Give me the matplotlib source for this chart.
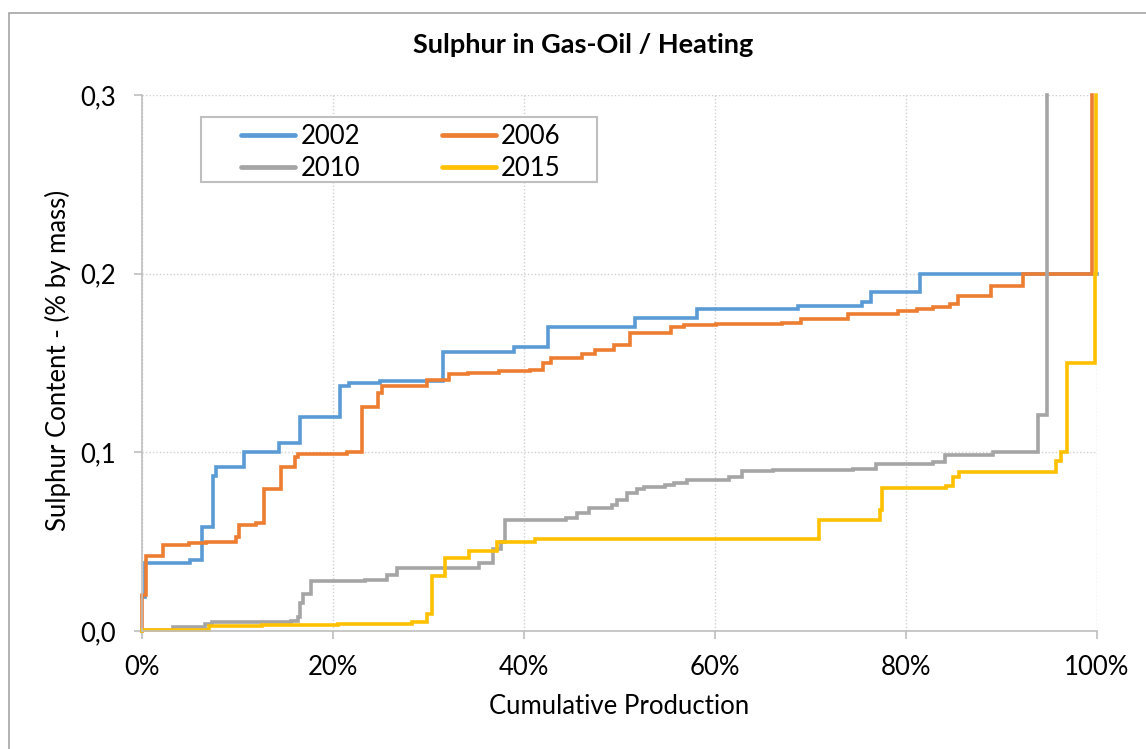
import matplotlib.pyplot as plt
from matplotlib.patches import Rectangle
from matplotlib.ticker import FuncFormatter, MultipleLocator

# cumulative production (%) where each step starts, and sulphur content (% by mass)
x_2002 = [0, 0.35, 5.0, 6.3, 7.45, 7.8, 10.7, 14.4, 16.6, 20.7, 21.7, 24.9, 31.5,
          39.0, 42.5, 51.7, 58.1, 68.7, 75.4, 76.4, 81.5, 100]
y_2002 = [0.019, 0.038, 0.040, 0.058, 0.087, 0.092, 0.100, 0.105, 0.120, 0.137, 0.139,
          0.140, 0.156, 0.159, 0.170, 0.175, 0.180, 0.182, 0.184, 0.190, 0.200, 0.200]

x_2006 = [0, 0, 0.45, 2.2, 4.9, 6.7, 9.9, 10.2, 11.9, 12.8, 14.6, 16.0, 16.3, 21.5,
          23.0, 24.7, 25.1, 29.9, 32.2, 34.2, 37.4, 40.7, 42.0, 42.9, 46.1, 47.5,
          49.4, 51.1, 55.4, 56.8, 60.1, 67.0, 69.0, 74.0, 79.2, 81.2, 82.9, 84.6,
          85.5, 88.9, 92.3, 99.5]
y_2006 = [0, 0.020, 0.042, 0.048, 0.049, 0.050, 0.0526, 0.0596, 0.0604, 0.0796, 0.092,
          0.0976, 0.099, 0.100, 0.1256, 0.133, 0.137, 0.1406, 0.1436, 0.1445, 0.1454,
          0.146, 0.150, 0.153, 0.155, 0.157, 0.160, 0.167, 0.170, 0.171, 0.172,
          0.1726, 0.1746, 0.1776, 0.179, 0.180, 0.1816, 0.183, 0.1876, 0.193, 0.200, 0.3]

x_2010 = [0, 0, 3.3, 6.6, 7.3, 15.6, 16.3, 16.6, 16.9, 17.7, 23.4, 25.7, 26.7, 35.3,
          36.8, 37.6, 38.0, 44.4, 45.6, 46.8, 49.2, 49.8, 50.8, 51.9, 52.6, 54.8,
          55.7, 57.1, 61.5, 62.9, 66.1, 74.5, 76.9, 82.9, 84.1, 89.2, 93.9, 94.8]
y_2010 = [0, 0.0008, 0.002, 0.004, 0.005, 0.0056, 0.0076, 0.0156, 0.0206, 0.028, 0.0286,
          0.0316, 0.035, 0.038, 0.046, 0.050, 0.062, 0.063, 0.066, 0.069, 0.0707,
          0.0735, 0.077, 0.0794, 0.0806, 0.0815, 0.0828, 0.0847, 0.086, 0.0897, 0.090,
          0.0906, 0.0932, 0.0946, 0.0986, 0.100, 0.121, 0.3]

x_2015 = [0, 0, 7.0, 12.6, 15.9, 20.5, 28.3, 29.9, 30.4, 31.7, 34.3, 37.2, 41.2, 70.9,
          77.3, 77.5, 84.2, 85.0, 85.6, 95.8, 96.3, 96.9, 99.8, 99.9]
y_2015 = [0, 0.0008, 0.0026, 0.0032, 0.0036, 0.004, 0.005, 0.0096, 0.0306, 0.0406,
          0.0445, 0.050, 0.0514, 0.062, 0.0676, 0.080, 0.0812, 0.0862, 0.0892, 0.095,
          0.100, 0.150, 0.200, 0.3]

series = [("2002", x_2002, y_2002, "#5B9BD5"),
          ("2006", x_2006, y_2006, "#ED7D31"),
          ("2010", x_2010, y_2010, "#A5A5A5"),
          ("2015", x_2015, y_2015, "#FFC000")]

plt.rcParams['font.family'] = ['Lato', 'DejaVu Sans']
FS = 18.5

fig = plt.figure(figsize=(11.46, 7.49), dpi=100)
W, H = 1146, 749
ax = fig.add_axes([142 / W, 1 - 631 / H, (1096.5 - 142) / W, (631 - 95) / H])

lines = {}
for name, xs, ys, col in series:
    lines[name], = ax.step(xs, ys, where='post', color=col, lw=2.6, label=name,
                           clip_on=False, solid_joinstyle='miter')

ax.set_xlim(0, 100)
ax.set_ylim(0, 0.3)
ax.xaxis.set_major_locator(MultipleLocator(20))
ax.yaxis.set_major_locator(MultipleLocator(0.1))
ax.xaxis.set_major_formatter(FuncFormatter(lambda v, p: "%d%%" % round(v)))
ax.yaxis.set_major_formatter(FuncFormatter(lambda v, p: ("%.1f" % v).replace('.', ',')))
ax.grid(True, color='#D0D0D0', ls=(0, (1, 1.5)), lw=1)
ax.set_axisbelow(True)
for s in ['top', 'right']:
    ax.spines[s].set_visible(False)
for s in ['left', 'bottom']:
    ax.spines[s].set_color('#BFBFBF')
    ax.spines[s].set_linewidth(1.2)
ax.tick_params(axis='both', colors='#BFBFBF', labelcolor='black', labelsize=FS,
               length=6, width=1.2)
ax.tick_params(axis='y', pad=13)
ax.tick_params(axis='x', pad=11)

# legend box
box = Rectangle(((200.7 - 142) / 954.5, (631 - 181.7) / 536), (596.7 - 200.7) / 954.5,
                (181.7 - 117) / 536, transform=ax.transAxes, facecolor='white',
                edgecolor='#BFBFBF', lw=1.5, zorder=5, clip_on=False)
ax.add_patch(box)
order = ["2002", "2010", "2006", "2015"]
leg = ax.legend([lines[k] for k in order], order, ncol=2, loc='upper left',
                frameon=False, fontsize=FS,
                bbox_to_anchor=((243 - 142) / 954.5 - 0.01, (631 - 117) / 536 + 0.002),
                handlelength=2.1, handletextpad=0.2, columnspacing=3.2,
                labelspacing=0.28, borderpad=0.3, borderaxespad=0)
leg.set_zorder(6)
for h in leg.get_lines():
    h.set_linewidth(3.4)
    h.set_solid_capstyle('round')

fig.text(583 / W, 1 - 45 / H, "Sulphur in Gas-Oil / Heating", ha='center', va='center',
         fontsize=19.5, fontweight='bold')
fig.text(619 / W, 1 - 707 / H, "Cumulative Production", ha='center', va='center',
         fontsize=FS)
fig.text(58 / W, 1 - 360 / H, "Sulphur Content - (% by mass)", ha='center', va='center',
         rotation=90, fontsize=FS)

# chart area border
fig.patches.append(Rectangle((9 / W, -0.05), 1.1, 1 - 13 / H + 0.05,
                             transform=fig.transFigure, fill=False,
                             edgecolor='#A6A6A6', lw=1.2))

fig.savefig('out.png', dpi=100)
